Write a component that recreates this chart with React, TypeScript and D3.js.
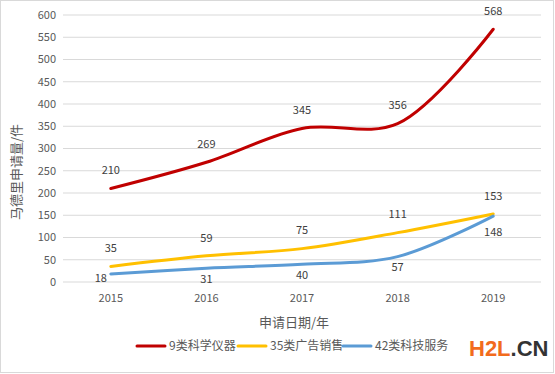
import * as d3 from "d3";

const YEARS = ["2015", "2016", "2017", "2018", "2019"];
const SCI = [210, 269, 345, 356, 568];
const AD = [35, 59, 75, 111, 153];
const TECH = [18, 31, 40, 57, 148];
const Y_TICKS = [0, 50, 100, 150, 200, 250, 300, 350, 400, 450, 500, 550, 600];

const SERIES = [
  { name: "9类科学仪器", values: SCI, color: "#C00000", labelDy: -18, labelDx: 0 },
  { name: "35类广告销售", values: AD, color: "#FFC000", labelDy: -18, labelDx: 0 },
  { name: "42类科技服务", values: TECH, color: "#5B9BD5", labelDy: 11, labelDx: 0 },
];

const W = 555;
const H = 374;
const FONT = "'Noto Sans CJK SC', 'Noto Sans', sans-serif";
const TXT = "#595959";

export default function App() {
  const x = d3.scaleBand().domain(YEARS).range([63, 541]);
  const y = d3.scaleLinear().domain([0, 600]).range([282, 15]);
  const cx = (yr: string) => (x(yr) ?? 0) + x.bandwidth() / 2;

  const line = d3
    .line<number>()
    .x((_, i) => cx(YEARS[i]))
    .y((d) => y(d))
    .curve(d3.curveCatmullRom.alpha(0.5));

  const legend = [
    { x0: 137, tx: 169 },
    { x0: 238, tx: 270 },
    { x0: 343, tx: 375 },
  ];

  return (
    <svg
      width={W}
      height={H}
      style={{ position: "absolute", left: 0, top: 0, background: "#fff" }}
      fontFamily={FONT}
    >
      <rect x={0.5} y={0.5} width={W - 2} height={H - 2} fill="#fff" stroke="#D9D9D9" />
      {Y_TICKS.map((t) => (
        <g key={t}>
          <line x1={63} x2={541} y1={y(t)} y2={y(t)} stroke="#D9D9D9" strokeWidth={1} />
          <text x={56} y={y(t)} dy="0.35em" textAnchor="end" fontSize={11} fill={TXT}>
            {t}
          </text>
        </g>
      ))}
      {YEARS.map((yr) => (
        <text key={yr} x={cx(yr)} y={298} dy="0.35em" textAnchor="middle" fontSize={11} fill={TXT}>
          {yr}
        </text>
      ))}
      <text
        transform={`translate(16,${172}) rotate(-90)`}
        textAnchor="middle"
        dy="0.35em"
        fontSize={13}
        fill={TXT}
      >
        马德里申请量/件
      </text>
      <text x={294} y={322} dy="0.35em" textAnchor="middle" fontSize={13} fill={TXT}>
        申请日期/年
      </text>
      {SERIES.map((s) => (
        <path
          key={s.name}
          d={line(s.values) ?? ""}
          fill="none"
          stroke={s.color}
          strokeWidth={3}
          strokeLinecap="round"
        />
      ))}
      {SERIES.map((s) =>
        s.values.map((v, i) => {
          let dx = s.labelDx;
          let dy = s.labelDy;
          if (s.name === "42类科技服务" && i === 0) {
            dx = -10;
            dy = 4;
          }
          if (s.name === "42类科技服务" && i === 4) {
            dy = 16;
          }
          return (
            <text
              key={s.name + i}
              x={cx(YEARS[i]) + dx}
              y={y(v) + dy}
              dy="0.35em"
              textAnchor="middle"
              fontSize={11}
              fill="#404040"
            >
              {v}
            </text>
          );
        }),
      )}
      {SERIES.map((s, i) => (
        <g key={s.name}>
          <line
            x1={legend[i].x0}
            x2={legend[i].x0 + 28}
            y1={346}
            y2={346}
            stroke={s.color}
            strokeWidth={3}
            strokeLinecap="round"
          />
          <text x={legend[i].tx} y={346} dy="0.35em" fontSize={12} fill={TXT}>
            {s.name}
          </text>
        </g>
      ))}
      <text x={469} y={348} dy="0.35em" fontSize={22} fontWeight="bold" fontFamily="'Liberation Sans', Arial, sans-serif">
        <tspan fill="#F26B1D">H2L</tspan>
        <tspan fill="#333">.CN</tspan>
      </text>
    </svg>
  );
}
